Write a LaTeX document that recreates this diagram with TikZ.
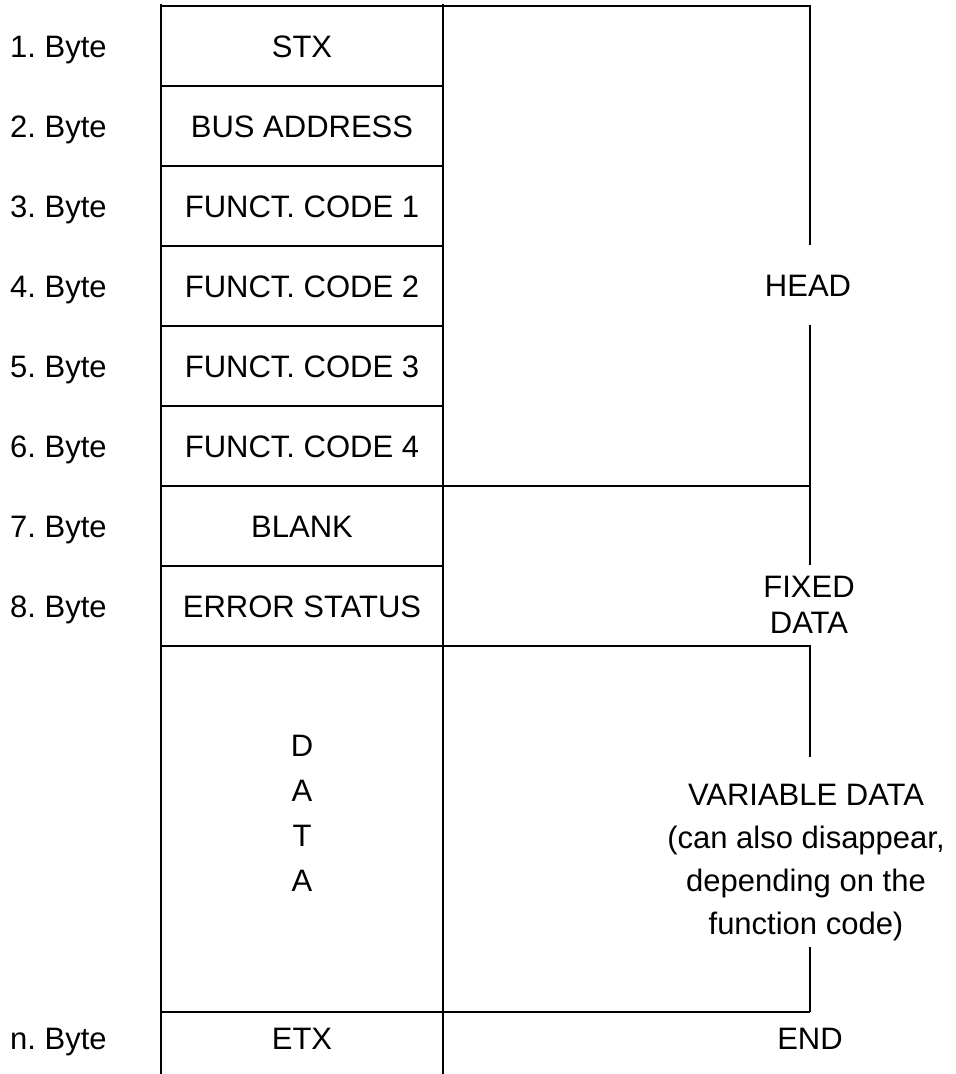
\documentclass[tikz,border=0pt]{standalone}
\usepackage{fontspec}
\setmainfont{Liberation Sans}
\frenchspacing
\begin{document}
\begin{tikzpicture}[x=1pt,y=-1pt,
  tbl/.style={line width=2pt},
  txt/.style={anchor=base,inner sep=0pt,font=\fontsize{31}{36}\selectfont\frenchspacing},
  lbl/.style={anchor=base west,inner sep=0pt,font=\fontsize{31}{36}\selectfont\frenchspacing}]
\useasboundingbox (0,0) rectangle (956,1074);
% frame lines
\draw[tbl] (161,4) -- (161,1074);
\draw[tbl] (443,4) -- (443,1074);
\draw[tbl] (161,6) -- (810,6) -- (810,245);
\draw[tbl] (810,325) -- (810,565);
\draw[tbl] (810,645) -- (810,757);
\draw[tbl] (810,947) -- (810,1012);
\foreach \y in {86,166,246,326,406,566}
  \draw[tbl] (161,\y) -- (443,\y);
\foreach \y in {486,646,1012}
  \draw[tbl] (161,\y) -- (810,\y);
% left labels
\node[lbl] (l1) at (10,57) {1. Byte};
\node[lbl] (l2) at (10,137) {2. Byte};
\node[lbl] (l3) at (10,217) {3. Byte};
\node[lbl] (l4) at (10,297) {4. Byte};
\node[lbl] (l5) at (10,377) {5. Byte};
\node[lbl] (l6) at (10,457) {6. Byte};
\node[lbl] (l7) at (10,537) {7. Byte};
\node[lbl] (l8) at (10,617) {8. Byte};
\node[lbl] (ln) at (10,1049) {n. Byte};
% cell texts
\node[txt] (c1) at (302,57) {STX};
\node[txt] (c2) at (302,137) {BUS ADDRESS};
\node[txt] (c3) at (302,217) {FUNCT. CODE 1};
\node[txt] (c4) at (302,297) {FUNCT. CODE 2};
\node[txt] (c5) at (302,377) {FUNCT. CODE 3};
\node[txt] (c6) at (302,457) {FUNCT. CODE 4};
\node[txt] (c7) at (302,537) {BLANK};
\node[txt] (c8) at (302,617) {ERROR STATUS};
\node[txt] (d1) at (302,756) {D};
\node[txt] (d2) at (302,801) {A};
\node[txt] (d3) at (302,846) {T};
\node[txt] (d4) at (302,891) {A};
\node[txt] (cn) at (302,1049) {ETX};
% right texts
\node[txt] (head) at (808,296) {HEAD};
\node[txt] (fix1) at (809,597) {FIXED};
\node[txt] (fix2) at (809,633) {DATA};
\node[txt] (v1) at (806,805) {VARIABLE DATA};
\node[txt] (v2) at (806,848) {(can also disappear,};
\node[txt] (v3) at (806,891) {depending on the};
\node[txt] (v4) at (806,934) {function code)};
\node[txt] (end) at (810,1049) {END};
\end{tikzpicture}
\end{document}
